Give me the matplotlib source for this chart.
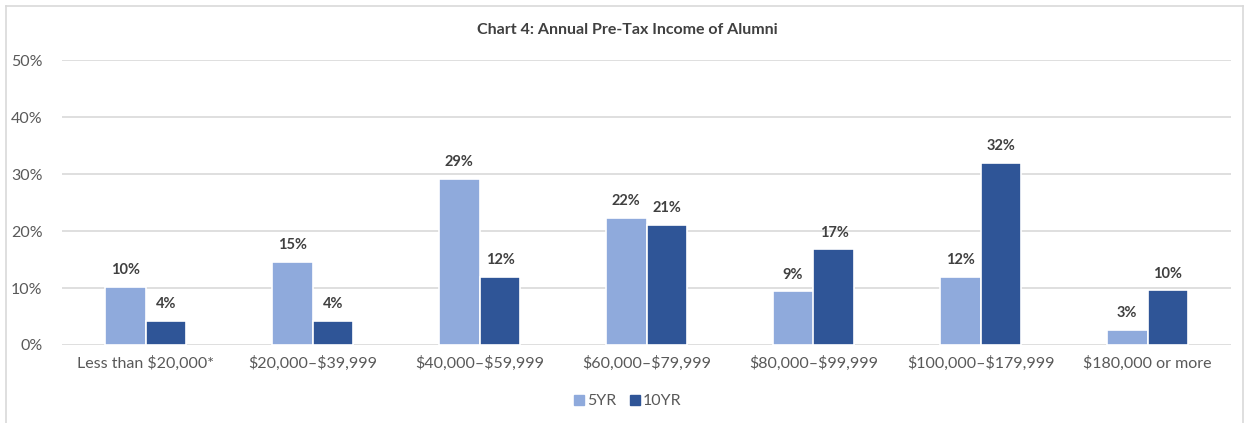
import numpy as np
import matplotlib.pyplot as plt
from matplotlib.lines import Line2D

plt.rcParams['font.family'] = ['Lato', 'DejaVu Sans']
plt.rcParams['text.parse_math'] = False

categories = ['Less than $20,000*', '$20,000–$39,999', '$40,000–$59,999',
              '$60,000–$79,999', '$80,000–$99,999', '$100,000–$179,999',
              '$180,000 or more']
yr5 = [10.2, 14.6, 29.1, 22.3, 9.4, 11.9, 2.6]
yr10 = [4.2, 4.2, 11.9, 21.1, 16.8, 31.9, 9.6]
series_names = ['5YR', '10YR']
colors = ['#8FAADC', '#2F5597']

fig = plt.figure(figsize=(12.47, 4.23), dpi=100)
ax = fig.add_axes([62/1247, 1-345/423, (1231-62)/1247, (345-60)/423])

x = np.arange(len(categories))
w = 0.245
b1 = ax.bar(x - w/2, yr5, w, color=colors[0], edgecolor='white', linewidth=1.2, label=series_names[0], zorder=3)
b2 = ax.bar(x + w/2, yr10, w, color=colors[1], edgecolor='white', linewidth=1.2, label=series_names[1], zorder=3)

for bars, vals in ((b1, yr5), (b2, yr10)):
    for r, v in zip(bars, vals):
        ax.annotate(f'{v:.0f}%', (r.get_x() + r.get_width()/2, v), xytext=(0, 7),
                    textcoords='offset points', ha='center', va='bottom',
                    fontsize=10.5, fontweight='bold', color='#404040')

ax.set_xlim(-0.5, len(categories) - 0.5)
ax.set_ylim(0, 50)
ax.set_yticks(range(0, 51, 10))
ax.set_yticklabels([f'{t}%' for t in range(0, 51, 10)])
ax.set_xticks(x)
ax.set_xticklabels(categories)
ax.tick_params(axis='both', length=0, labelsize=11.5, labelcolor='#595959')
ax.tick_params(axis='y', pad=14)
ax.tick_params(axis='x', pad=8)
ax.grid(axis='y', color='#D9D9D9', linewidth=1.2, zorder=0)
for s in ax.spines.values():
    s.set_visible(False)

fig.text(627/1247, 1-30/423, 'Chart 4: Annual Pre-Tax Income of Alumni', ha='center', va='center',
         fontsize=11.5, fontweight='bold', color='#404040')

handles = [Line2D([], [], marker='s', linestyle='', markersize=7, color=c) for c in colors]
fig.legend(handles, series_names, loc='center', bbox_to_anchor=(627/1247, 1-401/423), ncol=2,
           frameon=False, fontsize=11.5, labelcolor='#595959', handletextpad=0.1, columnspacing=0.8,
           handlelength=0.8)

# chart border
bc = '#D9D9D9'
fig.add_artist(Line2D([6/1247, 6/1247], [0, 1-6/423], color=bc, linewidth=1.2))
fig.add_artist(Line2D([6/1247, 1243/1247], [1-6/423, 1-6/423], color=bc, linewidth=1.2))
fig.add_artist(Line2D([1243/1247, 1243/1247], [0, 1-6/423], color=bc, linewidth=1.2))

fig.savefig('out.png', dpi=100)
